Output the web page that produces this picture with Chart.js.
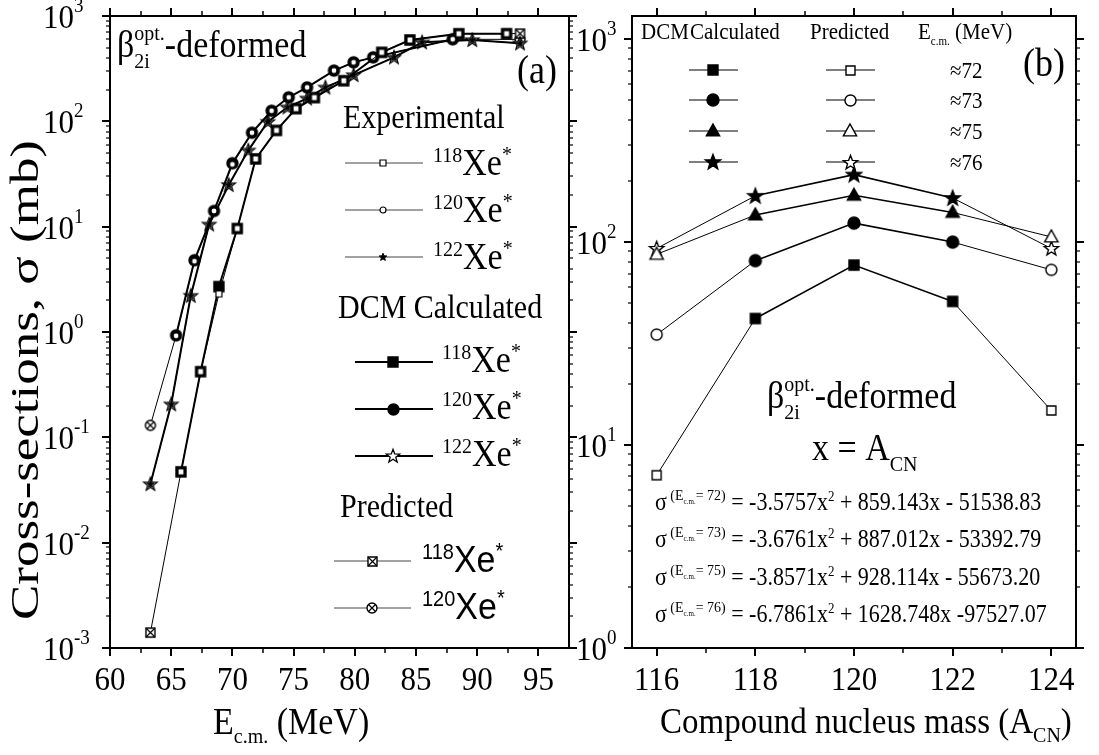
<!DOCTYPE html>
<html>
<head>
<meta charset="utf-8">
<title>Xe* fusion cross-sections</title>
<script src="https://cdn.jsdelivr.net/npm/chart.js@4.4.1/dist/chart.umd.min.js"></script>
<style>
  body { margin: 0; background: #fff; }
  #wrap { position: relative; width: 1099px; height: 755px; }
  #wrap canvas { position: absolute; left: 0; top: 0; }
</style>
</head>
<body>
<div id="wrap">
  <canvas id="panelA" width="1099" height="755"></canvas>
  <canvas id="panelB" width="1099" height="755"></canvas>
</div>
<script>
// ---- panel (a): sigma vs E_cm ----
const eXe118   = [65.8, 67.4, 68.9, 70.4, 71.9, 73.6, 75.2, 76.7, 79.1, 82.2, 84.5, 88.5, 92.4];
const expXe118 = [0.047, 0.42, 2.3, 9.6, 44, 82, 132, 168, 243, 452, 592, 679, 680];
const dcmXe118 = [0.047, 0.42, 2.7, 9.6, 44, 82, 132, 168, 243, 452, 592, 679, 680];

const eXe120   = [65.4, 66.9, 68.5, 70.0, 71.6, 73.2, 74.6, 76.1, 78.3, 79.9, 81.5, 88.0];
const expXe120 = [0.92, 4.7, 14.1, 39, 78, 126, 169, 210, 303, 363, 405, 601];
const dcmXe120 = [0.93, 4.8, 14.1, 40, 78, 126, 169, 210, 303, 363, 405, 601];

const eXe122   = [63.3, 65.0, 66.6, 68.1, 69.7, 71.3, 72.9, 74.5, 76.1, 77.6, 79.9, 83.2, 85.5, 89.6, 93.5];
const expXe122 = [0.036, 0.206, 2.21, 10.5, 24.9, 53, 99, 136, 165, 210, 275, 405, 563, 592, 550];
const dcmXe122 = [0.036, 0.206, 2.21, 10.5, 24.9, 53, 99, 136, 165, 210, 275, 405, 563, 592, 550];

const ePred     = [63.3, 93.5];
const predXe118 = [0.0014, 680];
const predXe120 = [0.13, 600];

const eTicks = [60, 65, 70, 75, 80, 85, 90, 95];
const eMinorTicks = [62.5, 67.5, 72.5, 77.5, 82.5, 87.5, 92.5];
const decadesA = [-3, -2, -1, 0, 1, 2, 3];

// ---- panel (b): sigma vs compound nucleus mass ----
const massCN = [116, 118, 120, 122, 124];
const sigE72 = [7.1, 42, 77, 51, 14.8];
const sigE73 = [35, 81, 124, 100, 73];
const sigE75 = [87, 136, 170, 140, 106];
const sigE76 = [93, 169, 215, 165, 93];
const energyLabels = ['≈72', '≈73', '≈75', '≈76'];
const massTicks = [116, 118, 120, 122, 124];
const massMinorTicks = [117, 119, 121, 123];
const decadesB = [0, 1, 2, 3];
const fitE = ['72', '73', '75', '76'];
const fitA = ['-3.5757', '-3.6761', '-3.8571', '-6.7861'];
const fitRest = [' + 859.143x - 51538.83', ' + 887.012x - 53392.79', ' + 928.114x - 55673.20', ' + 1628.748x -97527.07'];

const SERIF = '"Liberation Serif", "Times New Roman", serif';
const SANS = '"Liberation Sans", Arial, sans-serif';

// marker sprites used both for the data points and for the legends
function marker(kind, size, filled, lw = 1.4) {
  const pad = Math.ceil(lw) + 1;
  const c = document.createElement('canvas');
  c.width = c.height = Math.ceil(size + 2 * pad);
  const g = c.getContext('2d');
  const m = c.width / 2, r = size / 2;
  g.lineWidth = lw;
  g.strokeStyle = '#000';
  g.fillStyle = filled ? '#000' : '#fff';
  g.beginPath();
  if (kind === 'square' || kind === 'xsquare') {
    g.rect(m - r, m - r, size, size);
  } else if (kind === 'circle' || kind === 'xcircle') {
    g.arc(m, m, r, 0, Math.PI * 2);
  } else if (kind === 'triangle') {
    g.moveTo(m, m - r);
    g.lineTo(m + r * 0.95, m + r * 0.7);
    g.lineTo(m - r * 0.95, m + r * 0.7);
    g.closePath();
  } else if (kind === 'star') {
    for (let i = 0; i < 10; i++) {
      const a = -Math.PI / 2 + i * Math.PI / 5;
      const rr = i % 2 ? r * 0.42 : r;
      const px = m + rr * Math.cos(a), py = m + 0.05 * r + rr * Math.sin(a);
      i ? g.lineTo(px, py) : g.moveTo(px, py);
    }
    g.closePath();
  }
  g.fill();
  g.stroke();
  if (kind === 'xsquare' || kind === 'xcircle') {
    const d = kind === 'xsquare' ? r : r * 0.7;
    g.beginPath();
    g.moveTo(m - d, m - d); g.lineTo(m + d, m + d);
    g.moveTo(m + d, m - d); g.lineTo(m - d, m + d);
    g.lineWidth = 1.2;
    g.stroke();
  }
  return c;
}

const mk = {
  expSq: marker('square', 6, false, 1.2),
  expCi: marker('circle', 6, false, 1.2),
  expSt: marker('star', 8, true, 1),
  dcmSq: marker('square', 10, true),
  dcmCi: marker('circle', 11, true),
  dcmSt: marker('star', 14, false, 1.3),
  predSq: marker('xsquare', 9, false, 1.4),
  predCi: marker('xcircle', 10, false, 1.4),
  bSq: marker('square', 10, true), bSqO: marker('square', 9, false),
  bCi: marker('circle', 12, true), bCiO: marker('circle', 11, false),
  bTr: marker('triangle', 14, true), bTrO: marker('triangle', 14, false),
  bSt: marker('star', 16, true), bStO: marker('star', 15, false)
};

// text with super/subscripts: parts are [text, size, dy, family, stackedOnPrevious]
function rich(ctx, x, y, parts, opt = {}) {
  const sy = opt.sy || 1.1;
  ctx.save();
  const w = parts.map(p => { ctx.font = `${p[1]}px ${p[3] || SERIF}`; return ctx.measureText(p[0]).width; });
  const pos = [];
  let cx = 0, prev = 0;
  parts.forEach((p, i) => {
    const start = p[4] ? prev : cx;
    pos.push(start);
    cx = Math.max(cx, start + w[i]);
    prev = start;
  });
  const sx = opt.fit ? opt.fit / cx : 1;
  const total = cx * sx;
  const off = opt.align === 'center' ? -total / 2 : opt.align === 'right' ? -total : 0;
  ctx.translate(x, y);
  if (opt.rotate) ctx.rotate(opt.rotate);
  ctx.translate(off, 0);
  ctx.scale(sx, sy);
  ctx.fillStyle = '#000';
  ctx.textAlign = 'left';
  ctx.textBaseline = 'alphabetic';
  parts.forEach((p, i) => {
    ctx.font = `${p[1]}px ${p[3] || SERIF}`;
    ctx.fillText(p[0], pos[i], (p[2] || 0) / sy);
  });
  ctx.restore();
}

function logTicks(min, max) {
  const major = [], minor = [];
  for (let d = Math.floor(Math.log10(min)); d <= Math.ceil(Math.log10(max)); d++) {
    for (let k = 1; k < 10; k++) {
      const v = k * Math.pow(10, d);
      if (v < min * 0.999 || v > max * 1.001) continue;
      (k === 1 ? major : minor).push(v);
    }
  }
  return { major, minor };
}

// box with outward ticks on all four sides
function drawFrame(chart, xMajor, xMinor) {
  const { ctx, chartArea: a, scales: { x, y } } = chart;
  const yt = logTicks(y.min, y.max);
  ctx.save();
  ctx.strokeStyle = '#000';
  const tick = (x1, y1, x2, y2, lw) => {
    ctx.lineWidth = lw;
    ctx.beginPath(); ctx.moveTo(x1, y1); ctx.lineTo(x2, y2); ctx.stroke();
  };
  [[xMajor, 8, 2], [xMinor, 5, 1.5]].forEach(([vals, len, lw]) => vals.forEach(v => {
    const px = Math.round(x.getPixelForValue(v));
    tick(px, a.bottom, px, a.bottom + len, lw);
    tick(px, a.top, px, a.top - len, lw);
  }));
  [[yt.major, 8, 2], [yt.minor, 4, 1.2]].forEach(([vals, len, lw]) => vals.forEach(v => {
    const py = Math.round(y.getPixelForValue(v));
    tick(a.left, py, a.left - len, py, lw);
    tick(a.right, py, a.right + len, py, lw);
  }));
  ctx.lineWidth = 2;
  ctx.strokeRect(a.left, a.top, a.right - a.left, a.bottom - a.top);
  ctx.restore();
}

function legendRow(ctx, x1, x2, mx, y, lw, color, sprite) {
  ctx.save();
  ctx.strokeStyle = color;
  ctx.lineWidth = lw;
  ctx.beginPath(); ctx.moveTo(x1, y); ctx.lineTo(x2, y); ctx.stroke();
  ctx.drawImage(sprite, Math.round(mx - sprite.width / 2), Math.round(y - sprite.height / 2));
  ctx.restore();
}

function xeLabel(ctx, x, y, mass, fam) {
  rich(ctx, x, y, [[mass, 20, -13, fam], ['Xe', 34, 0, fam], ['*', 20, -14, fam]]);
}

const pts = (xs, ys) => xs.map((x, i) => ({ x, y: ys[i] }));

function predTrack(dcmX, dcmY, predY) {
  return [
    { x: ePred[0], y: predY[0] },
    { x: dcmX[0], y: dcmY[0] },
    { x: 80, y: null },
    { x: dcmX[dcmX.length - 1], y: dcmY[dcmY.length - 1] },
    { x: ePred[1], y: predY[1] }
  ];
}

const lineSet = (data, width, sprite, order, extra = {}) => Object.assign({
  data, borderColor: '#000', borderWidth: width, tension: 0, fill: false,
  pointStyle: sprite, pointRadius: 5, order
}, extra);

const panelAPlugin = {
  id: 'panelAFrame',
  afterDraw(chart) {
    const { ctx, scales: { x, y } } = chart;
    drawFrame(chart, eTicks, eMinorTicks);
    decadesA.forEach(d => {
      const py = y.getPixelForValue(Math.pow(10, d));
      rich(ctx, 43, py + 12, [['10', 31], [String(d), 19, -16]]);
    });
    eTicks.forEach(v => rich(ctx, x.getPixelForValue(v), 690, [[String(v), 31]], { align: 'center', sy: 1.12 }));
    rich(ctx, 213, 734, [['E', 34], ['c.m.', 20, 9], [' (MeV)', 34]]);
    rich(ctx, 38, 380, [['Cross-sections, σ (mb)', 40]], { align: 'center', rotate: -Math.PI / 2, fit: 480, sy: 1 });

    rich(ctx, 117, 57, [['β', 34], ['opt.', 20, -17], ['2i', 20, 11, SERIF, true], ['-deformed', 34]]);
    rich(ctx, 517, 83, [['(a)', 36]]);

    rich(ctx, 343, 128, [['Experimental', 30]]);
    [[mk.expSq, '118'], [mk.expCi, '120'], [mk.expSt, '122']].forEach(([s, m], i) => {
      const ry = 163 + i * 47;
      legendRow(ctx, 345, 423, 383, ry, 1, '#444', s);
      xeLabel(ctx, 433, ry + 12, m, SERIF);
    });
    rich(ctx, 338, 318, [['DCM Calculated', 30]]);
    [[mk.dcmSq, '118'], [mk.dcmCi, '120'], [mk.dcmSt, '122']].forEach(([s, m], i) => {
      const ry = 362 + i * 47;
      legendRow(ctx, 355, 433, 393, ry, 2, '#000', s);
      xeLabel(ctx, 442, ry + 10, m, SERIF);
    });
    rich(ctx, 340, 517, [['Predicted', 30]]);
    [[mk.predSq, '118'], [mk.predCi, '120']].forEach(([s, m], i) => {
      const ry = 561 + i * 47;
      legendRow(ctx, 334, 411, 372, ry, 1, '#444', s);
      xeLabel(ctx, 422, ry + 11, m, SANS);
    });
  }
};

new Chart(document.getElementById('panelA'), {
  type: 'line',
  data: {
    datasets: [
      lineSet(pts(eXe118, expXe118), 1, mk.expSq, 0),
      lineSet(pts(eXe120, expXe120), 1, mk.expCi, 0),
      lineSet(pts(eXe122, expXe122), 1, mk.expSt, 0),
      lineSet(pts(eXe118, dcmXe118), 2, mk.dcmSq, 1),
      lineSet(pts(eXe120, dcmXe120), 2, mk.dcmCi, 1),
      lineSet(pts(eXe122, dcmXe122), 2, mk.dcmSt, 1),
      lineSet(predTrack(eXe118, dcmXe118, predXe118), 1, mk.predSq, 2, { pointRadius: [5, 0, 0, 0, 5] }),
      lineSet(predTrack(eXe120, dcmXe120, predXe120), 1, mk.predCi, 2, { pointRadius: [5, 0, 0, 0, 5] })
    ]
  },
  options: {
    responsive: false,
    animation: false,
    events: [],
    layout: { padding: { left: 110, top: 16, right: 530, bottom: 107 } },
    scales: {
      x: { type: 'linear', min: 60, max: 97.5, display: false },
      y: { type: 'logarithmic', min: 0.001, max: 1000, display: false }
    },
    plugins: { legend: { display: false }, tooltip: { enabled: false } }
  },
  plugins: [panelAPlugin]
});

const panelBPlugin = {
  id: 'panelBFrame',
  afterDraw(chart) {
    const { ctx, scales: { x, y } } = chart;
    drawFrame(chart, massTicks, massMinorTicks);
    decadesB.forEach(d => {
      const py = y.getPixelForValue(Math.pow(10, d));
      rich(ctx, 576, py + 12, [['10', 31], [String(d), 19, -16]]);
    });
    massTicks.forEach(v => rich(ctx, x.getPixelForValue(v), 690, [[String(v), 31]], { align: 'center', sy: 1.12 }));
    rich(ctx, 660, 733, [['Compound nucleus mass (A', 33], ['CN', 20, 9], [')', 33]]);

    rich(ctx, 641, 39, [['DCM', 21]]);
    rich(ctx, 690, 39, [['Calculated', 21]]);
    rich(ctx, 810, 39, [['Predicted', 21]]);
    rich(ctx, 918, 39, [['E', 21], ['c.m.', 11, 6], [' (MeV)', 21]]);
    const rows = [[mk.bSq, mk.bSqO], [mk.bCi, mk.bCiO], [mk.bTr, mk.bTrO], [mk.bSt, mk.bStO]];
    const rowY = [70, 100, 131, 162];
    rows.forEach(([f, o], i) => {
      legendRow(ctx, 689, 738, 713, rowY[i], 1.2, '#000', f);
      legendRow(ctx, 826, 875, 850, rowY[i], 1.2, '#000', o);
      rich(ctx, 950, rowY[i] + 8, [[energyLabels[i], 21]]);
    });
    rich(ctx, 1023, 76, [['(b)', 36]]);

    rich(ctx, 767, 408, [['β', 34], ['opt.', 20, -17], ['2i', 20, 11, SERIF, true], ['-deformed', 34]]);
    rich(ctx, 812, 460, [['x = A', 34], ['CN', 20, 11]]);
    const base = [510, 547, 585, 622];
    fitE.forEach((e, i) => {
      rich(ctx, 655, base[i], [
        ['σ', 22], [' (E', 14, -10], ['c.m.', 7, -6], ['= ' + e + ')', 14, -10],
        [' = ' + fitA[i] + 'x', 22], ['2', 13, -9], [fitRest[i], 22]
      ]);
    });
  }
};

const ends = w => ctx => (ctx.p0DataIndex === 0 || ctx.p1DataIndex === massCN.length - 1) ? 1 : w;
const bSet = (vals, filled, open) => ({
  data: pts(massCN, vals),
  borderColor: '#000', borderWidth: 1.6, tension: 0, fill: false,
  pointStyle: massCN.map((m, i) => (i === 0 || i === massCN.length - 1) ? open : filled),
  pointRadius: 6,
  segment: { borderWidth: ends(1.6) }
});

new Chart(document.getElementById('panelB'), {
  type: 'line',
  data: {
    datasets: [
      bSet(sigE72, mk.bSq, mk.bSqO),
      bSet(sigE73, mk.bCi, mk.bCiO),
      bSet(sigE75, mk.bTr, mk.bTrO),
      bSet(sigE76, mk.bSt, mk.bStO)
    ]
  },
  options: {
    responsive: false,
    animation: false,
    events: [],
    layout: { padding: { left: 632, top: 16, right: 23, bottom: 107 } },
    scales: {
      x: { type: 'linear', min: 115.5, max: 124.5, display: false },
      y: { type: 'logarithmic', min: 1, max: 1300, display: false }
    },
    plugins: { legend: { display: false }, tooltip: { enabled: false } }
  },
  plugins: [panelBPlugin]
});
</script>
</body>
</html>
